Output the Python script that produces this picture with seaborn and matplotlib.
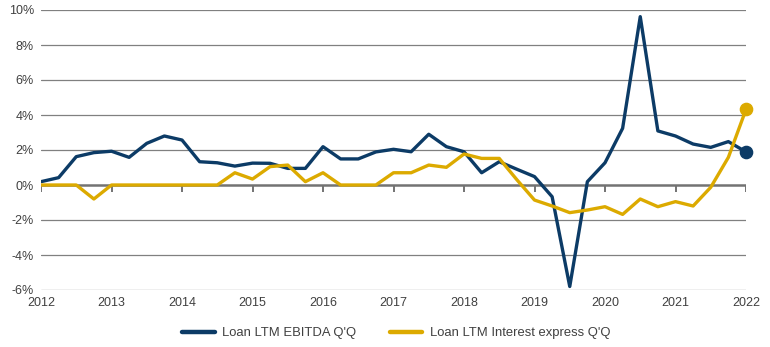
import numpy as np
import pandas as pd
import matplotlib
matplotlib.use("Agg")
import matplotlib.pyplot as plt
import seaborn as sns
from matplotlib.lines import Line2D

# ---- data (quarterly, 2012Q1 .. 2022Q1) ----
quarters = pd.period_range("2012Q1", "2022Q1", freq="Q")
ebitda = [0.19, 0.42, 1.62, 1.85, 1.93, 1.58, 2.38, 2.80, 2.57, 1.33, 1.27, 1.08,
          1.25, 1.24, 0.95, 0.95, 2.19, 1.49, 1.49, 1.89, 2.04, 1.90, 2.90, 2.19,
          1.90, 0.70, 1.33, 0.90, 0.48, -0.67, -5.80, 0.19, 1.27, 3.24, 9.62, 3.09,
          2.80, 2.34, 2.15, 2.48, 1.89]
interest = [0.0, 0.0, 0.0, -0.80, 0.0, 0.0, 0.0, 0.0, 0.0, 0.0, 0.0, 0.70,
            0.34, 1.05, 1.14, 0.19, 0.70, 0.0, 0.0, 0.0, 0.70, 0.70, 1.14, 1.01,
            1.77, 1.52, 1.52, 0.30, -0.86, -1.20, -1.58, -1.43, -1.24, -1.68, -0.80, -1.24,
            -0.95, -1.20, -0.13, 1.58, 4.32]
series_names = ["Loan LTM EBITDA Q'Q", "Loan LTM Interest express Q'Q"]
year_ticks = list(range(2012, 2023))
y_ticks = [-6, -4, -2, 0, 2, 4, 6, 8, 10]

colors = {series_names[0]: "#0c3b66", series_names[1]: "#dcaa00"}

xpos = np.array([q.year + (q.quarter - 1) / 4 for q in quarters])
df = pd.DataFrame({
    "x": np.concatenate([xpos, xpos]),
    "value": ebitda + interest,
    "series": [series_names[0]] * len(ebitda) + [series_names[1]] * len(interest),
})

sns.set_theme(style="white")
plt.rcParams["font.family"] = ["Liberation Sans", "DejaVu Sans"]

fig = plt.figure(figsize=(7.7, 3.47), dpi=100)
ax = fig.add_axes([41 / 770, 1 - 290 / 347, 705 / 770, 280 / 347])

# grid
for yv in y_ticks:
    if yv != 0:
        ax.axhline(yv, color="#808080", lw=0.9, zorder=0)
ax.axhline(0, color="#737373", lw=1.8, zorder=1)
ax.vlines(year_ticks, -0.38, 0, color="#737373", lw=1.4, zorder=1)

sns.lineplot(data=df, x="x", y="value", hue="series", palette=colors,
             hue_order=series_names, lw=2.4, ax=ax, zorder=3, legend=False)

# end markers
for name, vals in zip(series_names, [ebitda, interest]):
    ax.plot(xpos[-1], vals[-1], "o", color=colors[name], ms=8.8, zorder=4, clip_on=False)

ax.set_xlim(2012, 2022)
ax.set_ylim(-6, 10)
ax.set_xticks(year_ticks)
ax.set_xticklabels([str(y) for y in year_ticks])
ax.set_yticks(y_ticks)
ax.set_yticklabels([f"{v}%" for v in y_ticks])
ax.tick_params(axis="both", length=0, labelsize=9, colors="#404040")
ax.tick_params(axis="x", pad=5)
ax.tick_params(axis="y", pad=5)
for s in ax.spines.values():
    s.set_visible(False)
ax.set_xlabel("")
ax.set_ylabel("")

handles = [Line2D([], [], color=colors[n], lw=3.2) for n in series_names]
fig.legend(handles, series_names, loc="center", bbox_to_anchor=(396 / 770, 1 - 333 / 347),
           ncol=2, frameon=False, fontsize=9.4, handlelength=2.5, columnspacing=2.6,
           handletextpad=0.55, labelcolor="#404040")

fig.savefig("out.png", dpi=100)
